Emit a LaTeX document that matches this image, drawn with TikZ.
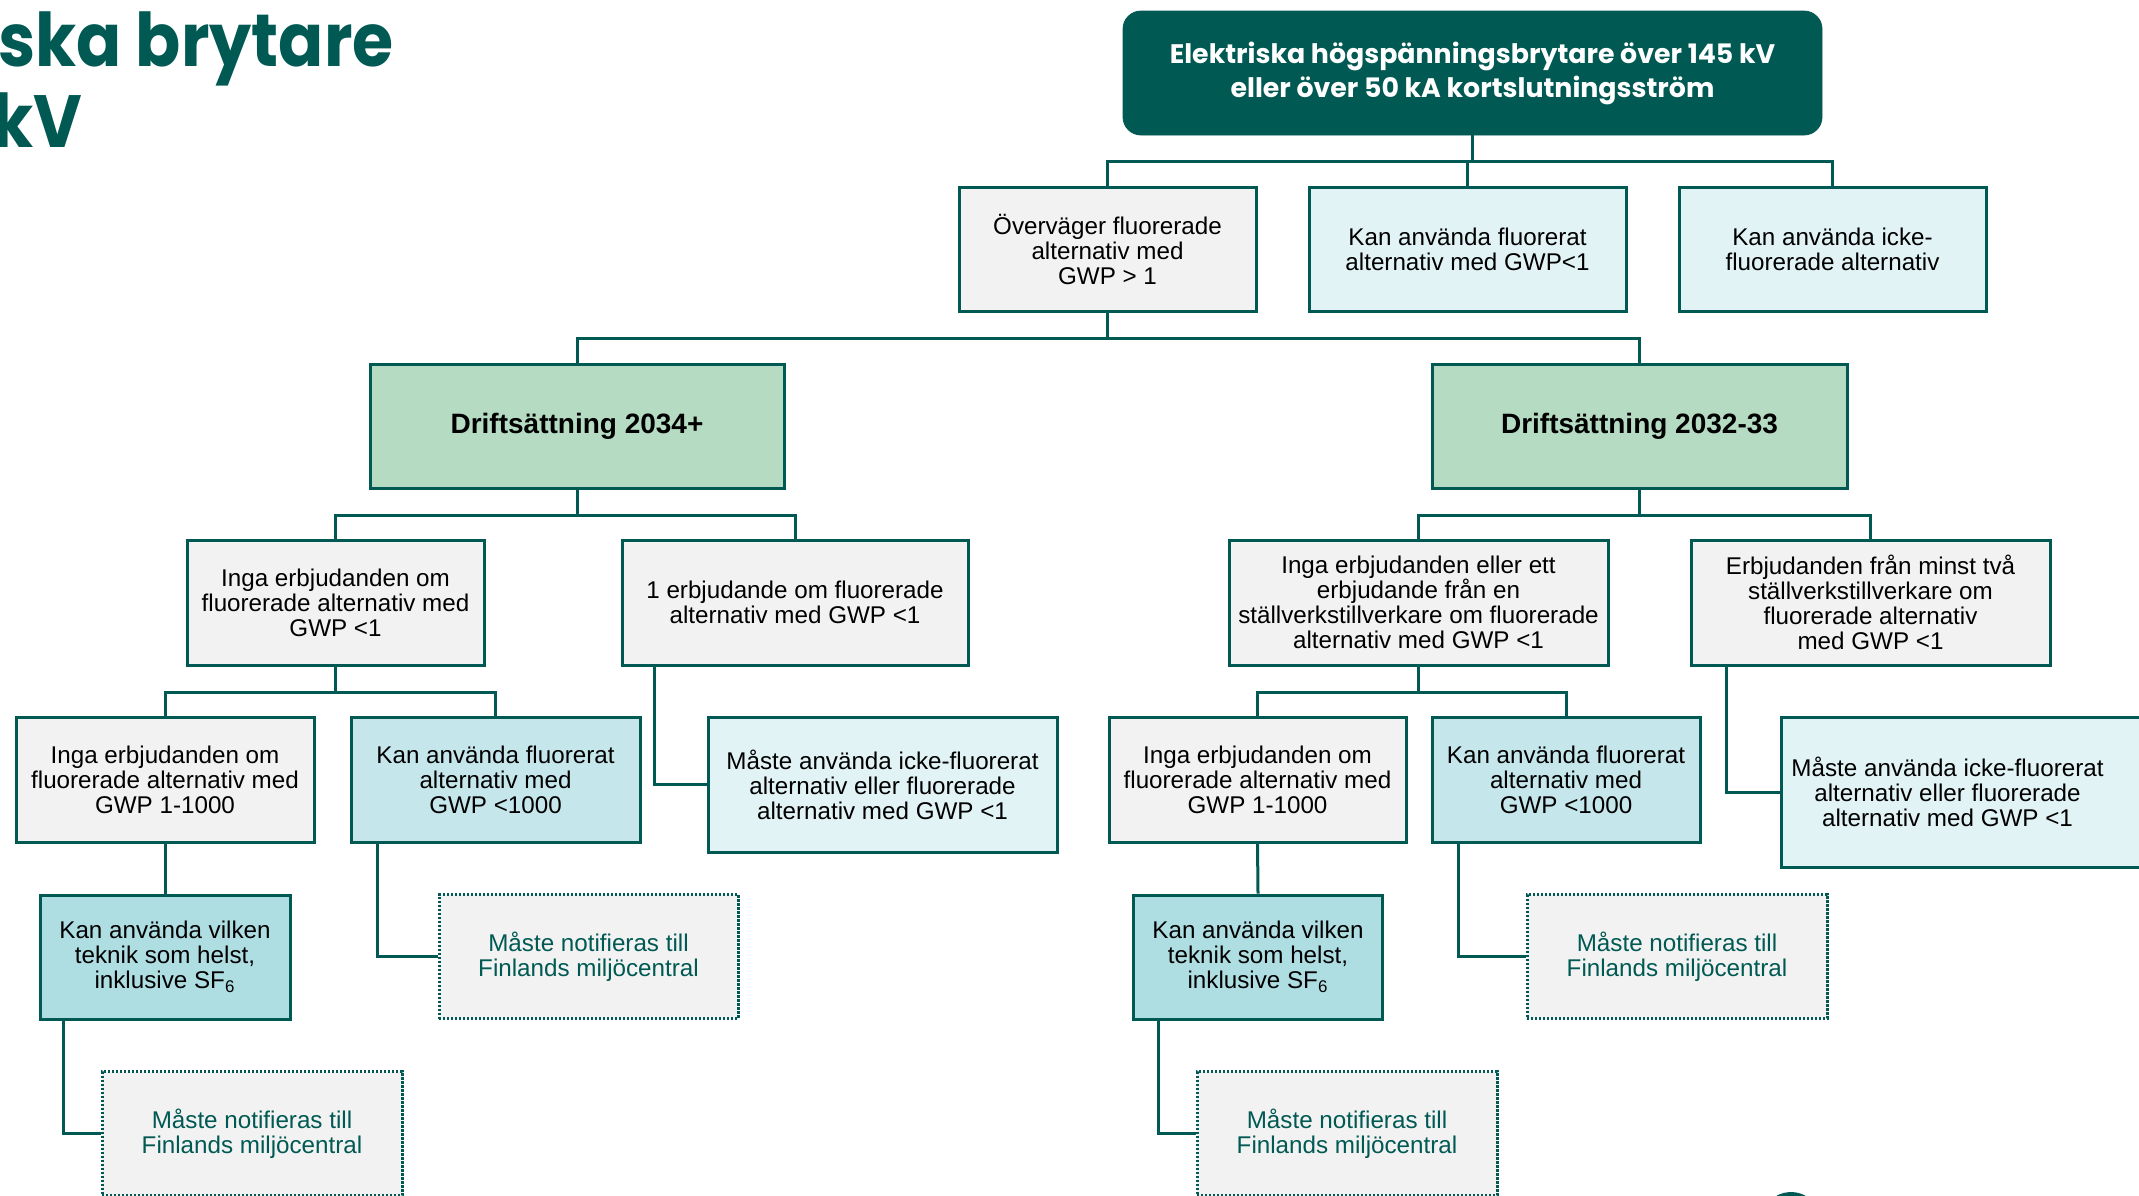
\documentclass[tikz,border=0pt]{standalone}
\usepackage{fontspec}
\setmainfont{Liberation Sans}
\newfontfamily\titlefont{Poppins}
\definecolor{teal0}{HTML}{005952}
\definecolor{grayf}{HTML}{F2F2F2}
\definecolor{cyanA}{HTML}{E2F3F6}
\definecolor{cyanB}{HTML}{C5E7EC}
\definecolor{cyanC}{HTML}{AEDDE2}
\definecolor{greenA}{HTML}{B5DCC3}
\newcommand{\bodyfnt}{\fontsize{12.1}{12.5}\selectfont}
\begin{document}
\begin{tikzpicture}[x=0.5pt,y=-0.5pt,
  sz/.style 2 args={minimum width=#1*0.5pt, minimum height=#2*0.5pt},
  box/.style={draw=teal0, line width=1.5pt, inner sep=1pt, align=center, font=\bodyfnt, text=black},
  graybox/.style={box, fill=grayf},
  lightbox/.style={box, fill=cyanA},
  midbox/.style={box, fill=cyanB},
  darkbox/.style={box, fill=cyanC},
  greenbox/.style={box, fill=greenA, font=\bfseries\fontsize{14}{16}\selectfont},
  notebox/.style={box, fill=grayf, dash pattern=on 1.1pt off 0.9pt, text=teal0},
  topbox/.style={fill=teal0, draw=teal0, rounded corners=9pt, align=center, text=white,
    font=\titlefont\bfseries\fontsize{13.4}{17}\selectfont},
  conn/.style={draw=teal0, line width=1.5pt},
  bigtitle/.style={anchor=base east, inner sep=0pt, text=teal0, font=\titlefont\bfseries\fontsize{37}{40}\selectfont}
]
\useasboundingbox (0,0) rectangle (2139,1195);

% title fragments
\node[bigtitle] (t1) at (394,66) {\scalebox{0.9}[1]{ska brytare}};
\node[bigtitle] (t2) at (83,147) {\scalebox{0.9}[1]{kV}};

% top
\node[topbox, sz={699}{124}] (top) at (1472.5,73) {Elektriska högspänningsbrytare över 145 kV\\eller över 50 kA kortslutningsström};

% row 1
\node[graybox, sz={297}{124}] (B1) at (1107.5,249) {Överväger fluorerade\\alternativ med\\GWP > 1};
\node[lightbox, sz={317}{124}] (B2) at (1467.5,249) {Kan använda fluorerat\\alternativ med GWP<1};
\node[lightbox, sz={307}{124}] (B3) at (1832.5,249) {Kan använda icke-\\fluorerade alternativ};

% row 2
\node[greenbox, sz={414}{124}] (D1) at (577,426) {Driftsättning 2034+};
\node[greenbox, sz={415}{124}] (D2) at (1639.5,426) {Driftsättning 2032-33};

% row 3
\node[graybox, sz={297}{125}] (L1) at (335.5,602.5) {Inga erbjudanden om\\fluorerade alternativ med\\GWP <1};
\node[graybox, sz={346}{125}] (L2) at (795,602.5) {1 erbjudande om fluorerade\\alternativ med GWP <1};
\node[graybox, sz={379}{125}] (R1) at (1418.5,602.5) {Inga erbjudanden eller ett\\erbjudande från en\\ställverkstillverkare om fluorerade\\alternativ med GWP <1};
\node[graybox, sz={359}{125}] (R2) at (1870.5,602.5) {Erbjudanden från minst två\\ställverkstillverkare om\\fluorerade alternativ\\med GWP <1};

% row 4
\node[graybox, sz={298}{125}] (L1a) at (165,779.5) {Inga erbjudanden om\\fluorerade alternativ med\\GWP 1-1000};
\node[midbox, sz={289}{125}] (L1b) at (495.5,779.5) {Kan använda fluorerat\\alternativ med\\GWP <1000};
\node[lightbox, sz={349}{135}] (L2a) at (882.5,784.5) {Måste använda icke-fluorerat\\alternativ eller fluorerade\\alternativ med GWP <1};
\node[graybox, sz={297}{125}] (R1a) at (1257.5,779.5) {Inga erbjudanden om\\fluorerade alternativ med\\GWP 1-1000};
\node[midbox, sz={268}{125}] (R1b) at (1566,779.5) {Kan använda fluorerat\\alternativ med\\GWP <1000};
\node[lightbox, sz={379}{150}, label={[align=center, font=\bodyfnt, xshift=-11.5pt]center:{Måste använda icke-fluorerat\\alternativ eller fluorerade\\alternativ med GWP <1}}] (R2a) at (1970.5,792) {};

% row 5
\node[darkbox, sz={250}{124}] (L1a1) at (165,957) {Kan använda vilken\\teknik som helst,\\inklusive SF\textsubscript{6}};
\node[notebox, sz={299}{124}] (L1b1) at (588.5,956.5) {Måste notifieras till\\Finlands miljöcentral};
\node[darkbox, sz={249}{124}] (R1a1) at (1258,957) {Kan använda vilken\\teknik som helst,\\inklusive SF\textsubscript{6}};
\node[notebox, sz={300}{124}] (R1b1) at (1677,956.5) {Måste notifieras till\\Finlands miljöcentral};

% row 6
\node[notebox, sz={300}{124}] (L1a2) at (252,1133.5) {Måste notifieras till\\Finlands miljöcentral};
\node[notebox, sz={300}{124}] (R1a2) at (1347,1133.5) {Måste notifieras till\\Finlands miljöcentral};

% bars
\coordinate (bar1) at (0,161);
\coordinate (bar2) at (0,338);
\coordinate (bar3) at (0,515);
\coordinate (bar4) at (0,692);

% connectors
\draw[conn] (top.south) -- (top.south |- bar1);
\draw[conn] (B1.north) -- (B1.north |- bar1) -- (B3.north |- bar1) -- (B3.north);
\draw[conn] (B2.north) -- (B2.north |- bar1);

\draw[conn] (B1.south) -- (B1.south |- bar2);
\draw[conn] (D1.north) -- (D1.north |- bar2) -- (D2.north |- bar2) -- (D2.north);

\draw[conn] (D1.south) -- (D1.south |- bar3);
\draw[conn] (L1.north) -- (L1.north |- bar3) -- (L2.north |- bar3) -- (L2.north);
\draw[conn] (D2.south) -- (D2.south |- bar3);
\draw[conn] (R1.north) -- (R1.north |- bar3) -- (R2.north |- bar3) -- (R2.north);

\draw[conn] (L1.south) -- (L1.south |- bar4);
\draw[conn] (L1a.north) -- (L1a.north |- bar4) -- (L1b.north |- bar4) -- (L1b.north);
\draw[conn] (R1.south) -- (R1.south |- bar4);
\draw[conn] (R1a.north) -- (R1a.north |- bar4) -- (R1b.north |- bar4) -- (R1b.north);

\draw[conn] ([xshift=17pt]L2.south west) |- (L2a.west);
\draw[conn] ([xshift=18.5pt]R2.south west) |- (R2a.west);

\draw[conn] (L1a.south) -- (L1a1.north);
\draw[conn] (R1a.south) -- (R1a1.north);
\draw[conn] ([xshift=14pt]L1b.south west) |- (L1b1.west);
\draw[conn] ([xshift=14pt]R1b.south west) |- (R1b1.west);
\draw[conn] ([xshift=12.5pt]L1a1.south west) |- (L1a2.west);
\draw[conn] ([xshift=13pt]R1a1.south west) |- (R1a2.west);

% logo fragment
\draw[teal0, line width=4pt] (1791,1222) ++(200:26) arc (200:330:26);
\end{tikzpicture}
\end{document}
